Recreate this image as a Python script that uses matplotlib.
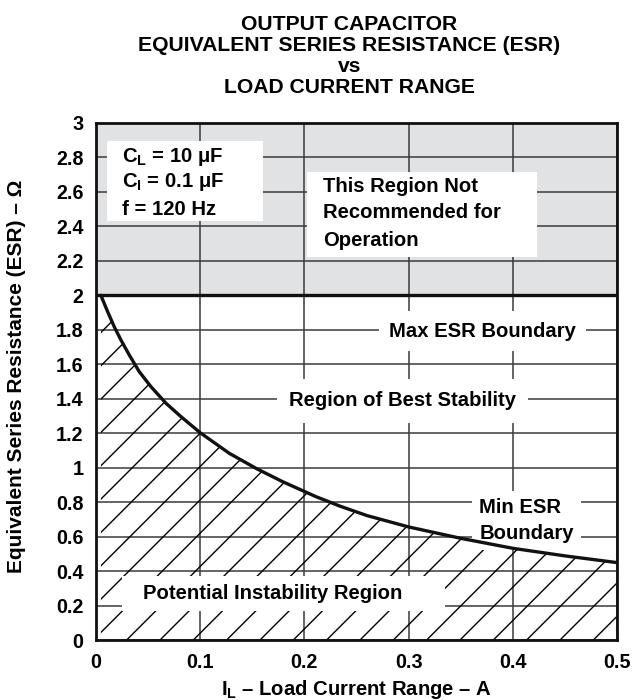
import numpy as np
import matplotlib
matplotlib.use("Agg")
import matplotlib.pyplot as plt
from matplotlib.patches import Rectangle

plt.rcParams['font.family'] = ['Liberation Sans', 'DejaVu Sans']
plt.rcParams['font.weight'] = 'bold'
plt.rcParams['axes.labelweight'] = 'bold'
plt.rcParams['mathtext.fontset'] = 'custom'
plt.rcParams['mathtext.rm'] = 'Liberation Sans:bold'
plt.rcParams['mathtext.it'] = 'Liberation Sans:bold'
plt.rcParams['mathtext.bf'] = 'Liberation Sans:bold'
plt.rcParams['hatch.linewidth'] = 1.0

# min ESR boundary
load_current = [0.0048, 0.0112, 0.0176, 0.024, 0.032, 0.0416, 0.0528, 0.0672, 0.0816, 0.100,
                0.128, 0.1536, 0.179, 0.211, 0.234, 0.26, 0.3, 0.35, 0.4, 0.45, 0.5]
min_esr = [2.0, 1.906, 1.818, 1.741, 1.654, 1.557, 1.470, 1.374, 1.296, 1.203,
           1.083, 0.996, 0.919, 0.832, 0.777, 0.722, 0.656, 0.59, 0.532, 0.488, 0.449]
max_esr = 2.0

x_ticks = [0, 0.1, 0.2, 0.3, 0.4, 0.5]
x_ticklabels = ['0', '0.1', '0.2', '0.3', '0.4', '0.5']
y_ticks = [0, 0.2, 0.4, 0.6, 0.8, 1, 1.2, 1.4, 1.6, 1.8, 2, 2.2, 2.4, 2.6, 2.8, 3]
y_ticklabels = ['0', '0.2', '0.4', '0.6', '0.8', '1', '1.2', '1.4', '1.6', '1.8',
                '2', '2.2', '2.4', '2.6', '2.8', '3']

title_lines = ['OUTPUT CAPACITOR', 'EQUIVALENT SERIES RESISTANCE (ESR)', 'vs', 'LOAD CURRENT RANGE']
params = ['C$_L$ = 10 \u03bcF', 'C$_I$ = 0.1 \u03bcF', 'f = 120 Hz']
not_rec = ['This Region Not', 'Recommended for', 'Operation']

fig = plt.figure(figsize=(6.35, 7), dpi=100)
ax = fig.add_axes([0.151, 0.0857, 0.821, 0.7386])

ax.set_xlim(0, 0.5)
ax.set_ylim(0, 3)

# grey "not recommended" band
ax.axhspan(max_esr, 3, color='#e1e2e4', zorder=0)

ax.set_xticks(x_ticks)
ax.set_xticklabels(x_ticklabels)
ax.set_yticks(y_ticks)
ax.set_yticklabels(y_ticklabels)
ax.tick_params(length=0, labelsize=14.2, pad=9)
ax.grid(True, color='#3a3a3a', linewidth=1.1, zorder=1)
ax.set_axisbelow(True)
for s in ax.spines.values():
    s.set_linewidth(2)
    s.set_color('#111111')

# hatched instability region
ax.fill_between(load_current, 0, min_esr, facecolor='none', edgecolor='black',
                hatch='/', linewidth=0, zorder=2)
ax.plot(load_current, min_esr, color='#111111', lw=2.4, zorder=6, solid_capstyle='round')
ax.axhline(max_esr, color='#111111', lw=2.4, zorder=6)

# white boxes
ax.add_patch(Rectangle((0.0106, 2.43), 0.150, 0.466, facecolor='white', edgecolor='none', zorder=3))
ax.add_patch(Rectangle((0.2025, 2.223), 0.2205, 0.493, facecolor='white', edgecolor='none', zorder=3))
ax.add_patch(Rectangle((0.025, 0.17), 0.31, 0.20, facecolor='white', edgecolor='none', zorder=3))

fs = 14.6
for txt, yy in zip(params, [2.80, 2.655, 2.50]):
    ax.text(0.025, yy, txt, fontsize=fs, ha='left', va='center', zorder=4)
for txt, yy in zip(not_rec, [2.63, 2.48, 2.32]):
    ax.text(0.218, yy, txt, fontsize=fs, ha='left', va='center', zorder=4)

ax.text(0.3704, 1.793, 'Max ESR Boundary', fontsize=fs, ha='center', va='center', zorder=4,
        bbox=dict(boxstyle='square,pad=0.5', facecolor='white', edgecolor='none'))
ax.text(0.294, 1.387, 'Region of Best Stability', fontsize=fs, ha='center', va='center', zorder=4,
        bbox=dict(boxstyle='square,pad=0.6', facecolor='white', edgecolor='none'))
ax.text(0.3676, 0.694, 'Min ESR\nBoundary', fontsize=fs, ha='left', va='center', linespacing=1.45,
        bbox=dict(boxstyle='square,pad=0.35', facecolor='white', edgecolor='none'), zorder=4)
ax.text(0.170, 0.27, 'Potential Instability Region', fontsize=fs, ha='center', va='center', zorder=4)

for i, line in enumerate(title_lines):
    fig.text(0.55, 1 - (25 + 20.7 * i) / 700, line, fontsize=15.2, ha='center', va='center')

ax.set_xlabel('I$_L$ \u2013 Load Current Range \u2013 A', fontsize=fs)
ax.xaxis.set_label_coords(0.5, -0.074)
ax.set_ylabel('Equivalent Series Resistance (ESR) \u2013 \u03a9', fontsize=15)
ax.yaxis.set_label_coords(-0.134, 0.51)

fig.savefig('out.png', dpi=100)
